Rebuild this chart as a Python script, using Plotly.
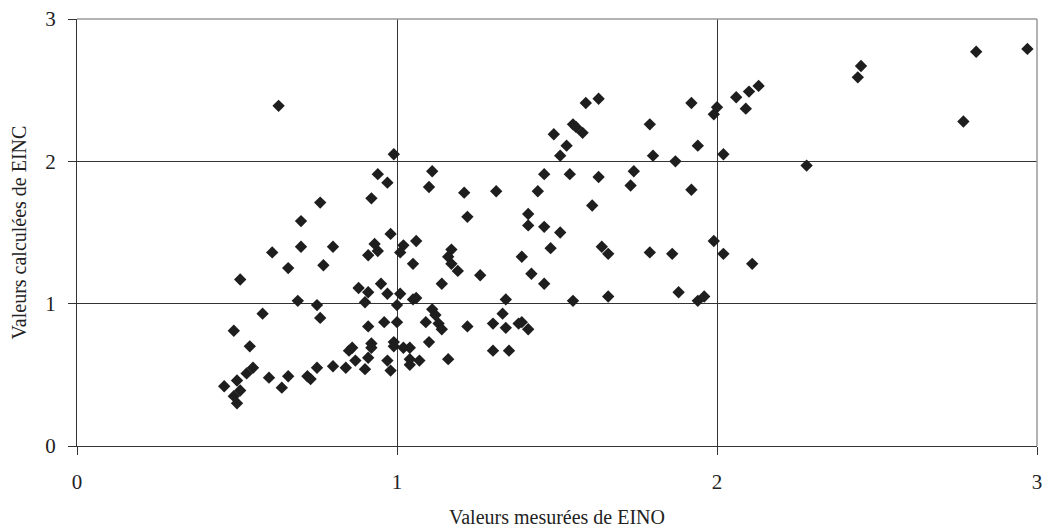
import plotly.graph_objects as go

# Measured EINO values (x) and calculated EINC values (y)
eino_mesure = [
    0.88, 0.91, 0.95, 0.97, 1.01, 1.05, 1.06, 0.90, 1.00, 0.69,
    0.75, 0.58, 0.76, 0.49, 0.91, 0.96, 1.00, 0.54, 0.92, 0.92,
    0.99, 0.99, 1.02, 1.04, 0.85, 0.86, 1.04, 1.07, 0.55, 0.53,
    0.87, 0.91, 0.97, 0.98, 1.04, 0.75, 0.80, 0.84, 0.90, 0.50,
    0.60, 0.66, 0.72, 0.73, 0.46, 0.51, 0.49, 0.50, 0.64, 0.51,
    0.63, 0.99, 0.94, 0.97, 0.76, 0.92, 0.70, 0.98, 0.61, 0.70,
    0.80, 0.93, 0.94, 0.91, 1.02, 1.01, 1.06, 1.05, 0.66, 0.77,
    1.63, 1.59, 1.55, 1.56, 1.58, 1.49, 1.53, 1.51, 1.11, 1.10,
    1.21, 1.31, 1.46, 1.54, 1.63, 1.44, 1.61, 1.22, 1.41, 1.41,
    1.46, 1.51, 1.17, 1.16, 1.17, 1.19, 1.26, 1.14, 1.39, 1.48,
    1.42, 1.46, 1.64, 1.66, 1.34, 1.55, 1.66, 1.11, 1.12, 1.09,
    1.13, 1.14, 1.22, 1.30, 1.33, 1.34, 1.39, 1.38, 1.41, 1.10,
    1.16, 1.30, 1.35, 2.13, 2.10, 2.06, 1.92, 2.00, 1.99, 2.09,
    1.79, 1.94, 1.80, 1.87, 2.02, 1.74, 1.73, 1.92, 1.99, 1.79,
    1.86, 2.02, 2.11, 1.88, 1.94, 1.96, 2.97, 2.81, 2.45, 2.44,
    2.77, 2.28,
]
einc_calcule = [
    1.11, 1.08, 1.14, 1.07, 1.07, 1.03, 1.04, 1.01, 0.99, 1.02,
    0.99, 0.93, 0.90, 0.81, 0.84, 0.87, 0.87, 0.70, 0.72, 0.69,
    0.73, 0.70, 0.69, 0.69, 0.67, 0.69, 0.61, 0.60, 0.55, 0.51,
    0.60, 0.62, 0.60, 0.53, 0.57, 0.55, 0.56, 0.55, 0.54, 0.46,
    0.48, 0.49, 0.49, 0.47, 0.42, 0.39, 0.35, 0.30, 0.41, 1.17,
    2.39, 2.05, 1.91, 1.85, 1.71, 1.74, 1.58, 1.49, 1.36, 1.40,
    1.40, 1.42, 1.37, 1.34, 1.41, 1.36, 1.44, 1.28, 1.25, 1.27,
    2.44, 2.41, 2.26, 2.24, 2.20, 2.19, 2.11, 2.04, 1.93, 1.82,
    1.78, 1.79, 1.91, 1.91, 1.89, 1.79, 1.69, 1.61, 1.63, 1.55,
    1.54, 1.50, 1.38, 1.33, 1.28, 1.23, 1.20, 1.14, 1.33, 1.39,
    1.21, 1.14, 1.40, 1.35, 1.03, 1.02, 1.05, 0.96, 0.92, 0.87,
    0.86, 0.82, 0.84, 0.86, 0.93, 0.83, 0.87, 0.86, 0.82, 0.73,
    0.61, 0.67, 0.67, 2.53, 2.49, 2.45, 2.41, 2.38, 2.33, 2.37,
    2.26, 2.11, 2.04, 2.00, 2.05, 1.93, 1.83, 1.80, 1.44, 1.36,
    1.35, 1.35, 1.28, 1.08, 1.02, 1.05, 2.79, 2.77, 2.67, 2.59,
    2.28, 1.97,
]

tick_vals = [0, 1, 2, 3]
tick_text = ["0", "1", "2", "3"]

FONT = "Liberation Serif, Times New Roman, serif"
DARK = "#333333"
LIGHT = "#9a9a9a"

fig = go.Figure(
    go.Scatter(
        x=eino_mesure,
        y=einc_calcule,
        mode="markers",
        marker=dict(symbol="diamond", size=9.5, color="#1e1e1e",
                    line=dict(width=0)),
        showlegend=False,
    )
)

axis_common = dict(
    range=[0, 3],
    tickvals=tick_vals,
    ticktext=tick_text,
    showgrid=True,
    gridcolor=DARK,
    gridwidth=1,
    zeroline=False,
    showline=True,
    linecolor=DARK,
    linewidth=1,
    ticks="outside",
    ticklen=8,
    tickcolor=DARK,
    tickfont=dict(family=FONT, size=21, color="#222222"),
    automargin=False,
)

fig.update_layout(
    width=1043,
    height=528,
    margin=dict(l=77, r=6, t=19, b=82),
    paper_bgcolor="white",
    plot_bgcolor="white",
    font=dict(family=FONT, color="#222222"),
    xaxis=dict(
        **axis_common,
        ticklabelstandoff=9,
        title=dict(text="Valeurs mesurées de EINO",
                   font=dict(family=FONT, size=20), standoff=20),
    ),
    yaxis=dict(
        **axis_common,
        ticklabelstandoff=8,
        title=dict(text="Valeurs calculées de EINC",
                   font=dict(family=FONT, size=20), standoff=13),
    ),
    shapes=[
        dict(type="line", xref="x domain", yref="y domain",
             x0=0, x1=1, y0=1, y1=1, line=dict(color=LIGHT, width=1.5),
             layer="above"),
        dict(type="line", xref="x domain", yref="y domain",
             x0=1, x1=1, y0=0, y1=1, line=dict(color=LIGHT, width=1.5),
             layer="above"),
    ],
)

fig.write_html("out.html")
